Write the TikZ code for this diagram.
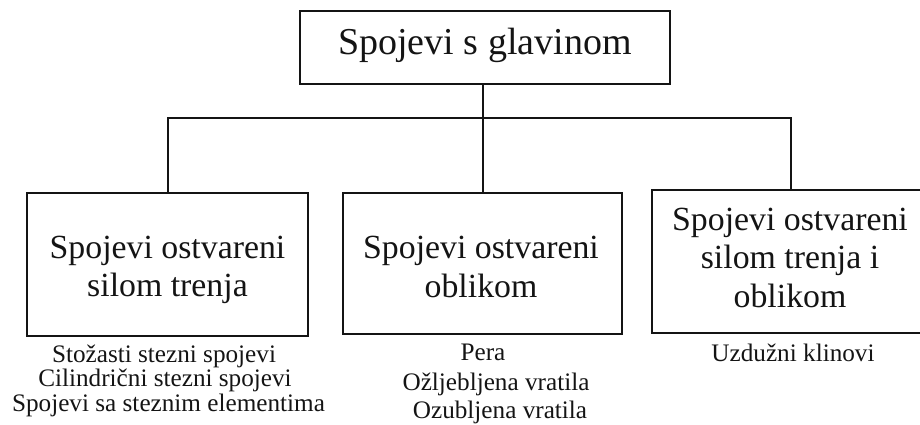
\documentclass[tikz,border=0pt]{standalone}
\usepackage{fontspec}
\setmainfont{Liberation Serif}
\definecolor{ink}{HTML}{141414}
\begin{document}
\begin{tikzpicture}[x=1pt,y=-1pt,
  box/.style={draw=ink,line width=2pt,inner sep=0pt,rectangle},
  conn/.style={draw=ink,line width=2pt},
  big/.style={inner sep=0pt,anchor=base,text=ink,font=\fontsize{38}{44}\selectfont},
  mid/.style={inner sep=0pt,anchor=base,text=ink,font=\fontsize{33.8}{39}\selectfont},
  small/.style={inner sep=0pt,anchor=base,text=ink,font=\fontsize{25.2}{25}\selectfont}]
\useasboundingbox (0,0) rectangle (920,425);
% boxes
\node[box,minimum width=370pt,minimum height=73pt] (top) at (485,47.5) {};
\node[box,minimum width=281pt,minimum height=143pt] (b1) at (167.5,264.5) {};
\node[box,minimum width=279pt,minimum height=141pt] (b2) at (482.5,263.5) {};
\begin{scope}
\clip (0,0) rectangle (920,425);
\node[box,minimum width=278pt,minimum height=143pt] (b3) at (791,261.5) {};
\end{scope}
% connectors
\coordinate (bus) at (0,118);
\draw[conn] (b1.north) -- (b1.north |- bus) -- (b3.north |- bus) -- (b3.north);
\draw[conn] (top.south -| b2.north) -- (b2.north);
% texts
\node[big] (t0) at (485,55) {Spojevi s glavinom};
\node[mid] (t1a) at (167.5,258.3) {Spojevi ostvareni};
\node[mid] (t1b) at (167.5,296.7) {silom trenja};
\node[mid] (t2a) at (481,258) {Spojevi ostvareni};
\node[mid] (t2b) at (481,297) {oblikom};
\node[mid] (t3a) at (790,230) {Spojevi ostvareni};
\node[mid] (t3b) at (790,268) {silom trenja i};
\node[mid] (t3c) at (790,307) {oblikom};
% lists
\node[small] (l1a) at (164,362) {Stožasti stezni spojevi};
\node[small] (l1b) at (165,386.7) {Cilindrični stezni spojevi};
\node[small] (l1c) at (168.5,411.7) {Spojevi sa steznim elementima};
\node[small] (l2a) at (483,360) {Pera};
\node[small] (l2b) at (496,390) {Ožljebljena vratila};
\node[small] (l2c) at (500,418) {Ozubljena vratila};
\node[small] (l3a) at (793,361.7) {Uzdužni klinovi};
\end{tikzpicture}
\end{document}
